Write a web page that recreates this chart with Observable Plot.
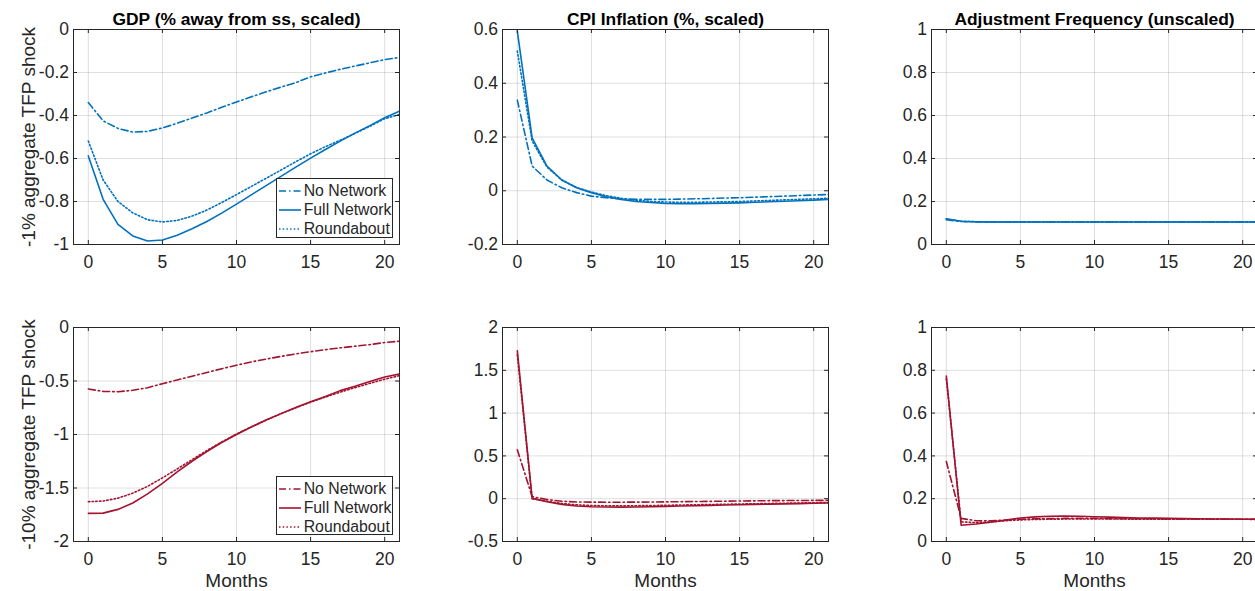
<!DOCTYPE html>
<html><head><meta charset="utf-8">
<script src="https://cdn.jsdelivr.net/npm/d3@7"></script>
<script src="https://cdn.jsdelivr.net/npm/@observablehq/plot@0.6"></script>
<style>
html,body{margin:0;padding:0;background:#fff;overflow:hidden;width:1255px;height:591px;}
#root{position:relative;width:1255px;height:591px;font-family:"Liberation Sans",Arial,Helvetica,sans-serif;color:#262626;}
.panel{position:absolute;}
.panel svg{max-width:none !important;}
.legend{position:absolute;box-sizing:border-box;border:1px solid #262626;background:#fff;font-size:15.8px;}
.legend .item{position:absolute;left:0;height:18px;display:flex;align-items:center;white-space:nowrap;}
.legend svg{display:block;margin-left:2px;margin-right:3px;}
</style></head><body><div id="root"></div><script>
// ---------- data ----------
const months = [0,1,2,3,4,5,6,7,8,9,10,11,12,13,14,15,16,17,18,19,20,21];
const seriesNames = ["No Network", "Full Network", "Roundabout"];
const xTicks = [0, 5, 10, 15, 20];

const titles = ["GDP (% away from ss, scaled)", "CPI Inflation (%, scaled)", "Adjustment Frequency (unscaled)"];
const rowLabels = ["-1% aggregate TFP shock", "-10% aggregate TFP shock"];
const xLabel = "Months";

// Row 1: -1% shock
const gdp1_no   = [-0.34,-0.425,-0.46,-0.477,-0.474,-0.458,-0.436,-0.412,-0.388,-0.362,-0.337,-0.313,-0.29,-0.268,-0.247,-0.22,-0.202,-0.185,-0.17,-0.155,-0.14,-0.13];
const gdp1_full = [-0.588,-0.79,-0.906,-0.96,-0.984,-0.979,-0.957,-0.927,-0.893,-0.854,-0.812,-0.769,-0.726,-0.683,-0.640,-0.598,-0.558,-0.519,-0.482,-0.447,-0.41,-0.38];
const gdp1_rnd  = [-0.519,-0.70,-0.80,-0.853,-0.885,-0.895,-0.888,-0.868,-0.84,-0.805,-0.768,-0.73,-0.692,-0.654,-0.615,-0.578,-0.545,-0.515,-0.483,-0.45,-0.415,-0.395];

const cpi1_no   = [0.337,0.092,0.04,0.011,-0.007,-0.02,-0.026,-0.03,-0.032,-0.032,-0.032,-0.031,-0.03,-0.029,-0.027,-0.026,-0.024,-0.022,-0.02,-0.018,-0.016,-0.014];
const cpi1_full = [0.594,0.197,0.092,0.04,0.011,-0.007,-0.022,-0.032,-0.04,-0.044,-0.047,-0.048,-0.048,-0.047,-0.046,-0.045,-0.043,-0.041,-0.039,-0.037,-0.035,-0.032];
const cpi1_rnd  = [0.52,0.185,0.088,0.04,0.012,-0.005,-0.018,-0.028,-0.035,-0.04,-0.042,-0.043,-0.043,-0.042,-0.041,-0.04,-0.038,-0.036,-0.034,-0.032,-0.03,-0.028];

const adj1_no   = [0.115,0.107,0.105,0.105,0.105,0.105,0.105,0.105,0.105,0.105,0.105,0.105,0.105,0.105,0.105,0.105,0.105,0.105,0.105,0.105,0.105,0.105];
const adj1_full = [0.12,0.108,0.106,0.105,0.105,0.105,0.105,0.105,0.105,0.105,0.105,0.105,0.105,0.105,0.105,0.105,0.105,0.105,0.105,0.105,0.105,0.105];
const adj1_rnd  = [0.118,0.108,0.106,0.105,0.105,0.105,0.105,0.105,0.105,0.105,0.105,0.105,0.105,0.105,0.105,0.105,0.105,0.105,0.105,0.105,0.105,0.105];

// Row 2: -10% shock
const gdp2_no   = [-0.575,-0.597,-0.60,-0.587,-0.563,-0.525,-0.49,-0.455,-0.42,-0.385,-0.352,-0.322,-0.295,-0.27,-0.247,-0.226,-0.207,-0.19,-0.175,-0.16,-0.14,-0.128];
const gdp2_full = [-1.737,-1.735,-1.70,-1.64,-1.555,-1.456,-1.35,-1.25,-1.16,-1.075,-1.0,-0.93,-0.865,-0.805,-0.748,-0.695,-0.645,-0.59,-0.55,-0.505,-0.463,-0.435];
const gdp2_rnd  = [-1.628,-1.622,-1.595,-1.548,-1.485,-1.405,-1.322,-1.235,-1.15,-1.07,-0.995,-0.928,-0.865,-0.806,-0.75,-0.698,-0.65,-0.604,-0.562,-0.522,-0.483,-0.45];

const cpi2_no   = [0.572,0.024,-0.01,-0.03,-0.038,-0.04,-0.041,-0.041,-0.04,-0.039,-0.037,-0.035,-0.033,-0.031,-0.029,-0.027,-0.025,-0.023,-0.022,-0.021,-0.02,-0.019];
const cpi2_full = [1.727,0.004,-0.035,-0.066,-0.086,-0.094,-0.097,-0.098,-0.097,-0.094,-0.09,-0.086,-0.082,-0.078,-0.074,-0.07,-0.066,-0.063,-0.06,-0.057,-0.054,-0.05];
const cpi2_rnd  = [1.68,0.0,-0.03,-0.056,-0.072,-0.08,-0.083,-0.083,-0.082,-0.08,-0.077,-0.074,-0.071,-0.068,-0.065,-0.062,-0.059,-0.056,-0.053,-0.05,-0.047,-0.045];

const adj2_no   = [0.374,0.108,0.097,0.097,0.1,0.104,0.106,0.107,0.108,0.108,0.108,0.107,0.107,0.106,0.106,0.105,0.105,0.105,0.105,0.104,0.104,0.104];
const adj2_full = [0.773,0.076,0.082,0.09,0.1,0.11,0.115,0.118,0.119,0.118,0.116,0.114,0.112,0.11,0.109,0.108,0.107,0.106,0.105,0.105,0.104,0.104];
const adj2_rnd  = [0.76,0.092,0.088,0.092,0.097,0.101,0.103,0.104,0.105,0.105,0.105,0.105,0.105,0.104,0.104,0.104,0.104,0.104,0.104,0.104,0.104,0.103];

const yTicksGdp1 = [-1,-0.8,-0.6,-0.4,-0.2,0];
const yTicksCpi1 = [-0.2,0,0.2,0.4,0.6];
const yTicksAdj  = [0,0.2,0.4,0.6,0.8,1];
const yTicksGdp2 = [-2,-1.5,-1,-0.5,0];
const yTicksCpi2 = [-0.5,0,0.5,1,1.5,2];

// ---------- style ----------
const rowColors = ["#0072BD", "#A2142F"];
const dashes = ["7,3,1.5,3", null, "1.5,2.2"];
const axisColor = "#262626";
const FONT = "'Liberation Sans', Arial, Helvetica, sans-serif";
const colLeft = [72.5, 502, 931.3];
const rowTop = [28.5, 326.5];
const rowH = [215, 214];
const FW = 326;
const ML = 80, MR = 6, MT = 34, MB = 52;

const panels = [
  [{s:[gdp1_no,gdp1_full,gdp1_rnd], d:[-1,0], t:yTicksGdp1}, {s:[cpi1_no,cpi1_full,cpi1_rnd], d:[-0.2,0.6], t:yTicksCpi1}, {s:[adj1_no,adj1_full,adj1_rnd], d:[0,1], t:yTicksAdj}],
  [{s:[gdp2_no,gdp2_full,gdp2_rnd], d:[-2,0], t:yTicksGdp2}, {s:[cpi2_no,cpi2_full,cpi2_rnd], d:[-0.5,2], t:yTicksCpi2}, {s:[adj2_no,adj2_full,adj2_rnd], d:[0,1], t:yTicksAdj}]
];

const root = document.getElementById("root");

panels.forEach((row, r) => row.forEach((p, c) => {
  const H = rowH[r];
  const color = rowColors[r];
  const marks = [
    Plot.gridX(xTicks, {stroke: axisColor, strokeOpacity: 0.15}),
    Plot.gridY(p.t, {stroke: axisColor, strokeOpacity: 0.15}),
  ];
  seriesNames.forEach((name, i) => {
    const data = months.map((m, j) => ({month: m, value: p.s[i][j]}));
    marks.push(Plot.line(data, {x: "month", y: "value", stroke: color, strokeWidth: 1.6, strokeDasharray: dashes[i], clip: true}));
  });
  marks.push(
    Plot.tickX(xTicks, {x: d => d, insetTop: H - 4, stroke: axisColor}),
    Plot.tickX(xTicks, {x: d => d, insetBottom: H - 4, stroke: axisColor}),
    Plot.tickY(p.t, {y: d => d, insetRight: FW - 4, stroke: axisColor}),
    Plot.tickY(p.t, {y: d => d, insetLeft: FW - 4, stroke: axisColor}),
    Plot.frame({stroke: axisColor, strokeWidth: 1}),
    Plot.axisX(xTicks, {tickSize: 0, tickPadding: 11.5, fontSize: 17.5, label: null, tickFormat: d => String(d), fill: axisColor}),
    Plot.axisY(p.t, {tickSize: 0, tickPadding: 4.5, fontSize: 17.5, label: null, tickFormat: d => String(d), fill: axisColor})
  );
  if (r === 0) marks.push(Plot.text([titles[c]], {text: d => d, frameAnchor: "top", lineAnchor: "middle", textAnchor: "middle", dy: -9.8, fontWeight: "bold", fontSize: 17.4, fill: "#000"}));
  if (c === 0) marks.push(Plot.text([rowLabels[r]], {text: d => d, frameAnchor: "left", lineAnchor: "middle", textAnchor: "middle", rotate: -90, dx: -(colLeft[0] - 28), fontSize: 19, fill: axisColor}));
  if (r === 1) marks.push(Plot.text([xLabel], {text: d => d, frameAnchor: "bottom", lineAnchor: "middle", textAnchor: "middle", dy: 39.7, fontSize: 19, fill: axisColor}));

  const W = ML + FW + MR;
  const svg = Plot.plot({
    width: W, height: MT + H + MB,
    marginLeft: ML, marginRight: MR, marginTop: MT, marginBottom: MB,
    x: {domain: [-1, 21], label: null},
    y: {domain: p.d, label: null},
    style: {fontFamily: FONT, color: axisColor, background: "transparent", overflow: "visible", maxWidth: "none"},
    marks
  });
  const div = document.createElement("div");
  div.className = "panel";
  div.style.left = (colLeft[c] - ML) + "px";
  div.style.top = (rowTop[r] - MT) + "px";
  div.style.width = W + "px";
  div.appendChild(svg);
  root.appendChild(div);

  if (c === 0) {
    const lg = document.createElement("div");
    lg.className = "legend";
    const top = r === 0 ? 178.3 : 476;
    lg.style.left = "275.7px"; lg.style.top = top + "px";
    lg.style.width = "117.6px"; lg.style.height = (r === 0 ? 60 : 59.3) + "px";
    seriesNames.forEach((name, i) => {
      const it = document.createElement("div");
      it.className = "item";
      it.style.top = (2.7 + i * 19.2) + "px";
      const ns = "http://www.w3.org/2000/svg";
      const s = document.createElementNS(ns, "svg");
      s.setAttribute("width", 22); s.setAttribute("height", 10);
      const ln = document.createElementNS(ns, "line");
      ln.setAttribute("x1", 0); ln.setAttribute("x2", 22); ln.setAttribute("y1", 5); ln.setAttribute("y2", 5);
      ln.setAttribute("stroke", color); ln.setAttribute("stroke-width", 1.6);
      if (dashes[i]) ln.setAttribute("stroke-dasharray", dashes[i]);
      s.appendChild(ln);
      const tx = document.createElement("span");
      tx.textContent = name;
      it.appendChild(s); it.appendChild(tx);
      lg.appendChild(it);
    });
    root.appendChild(lg);
  }
}));
</script></body></html>
